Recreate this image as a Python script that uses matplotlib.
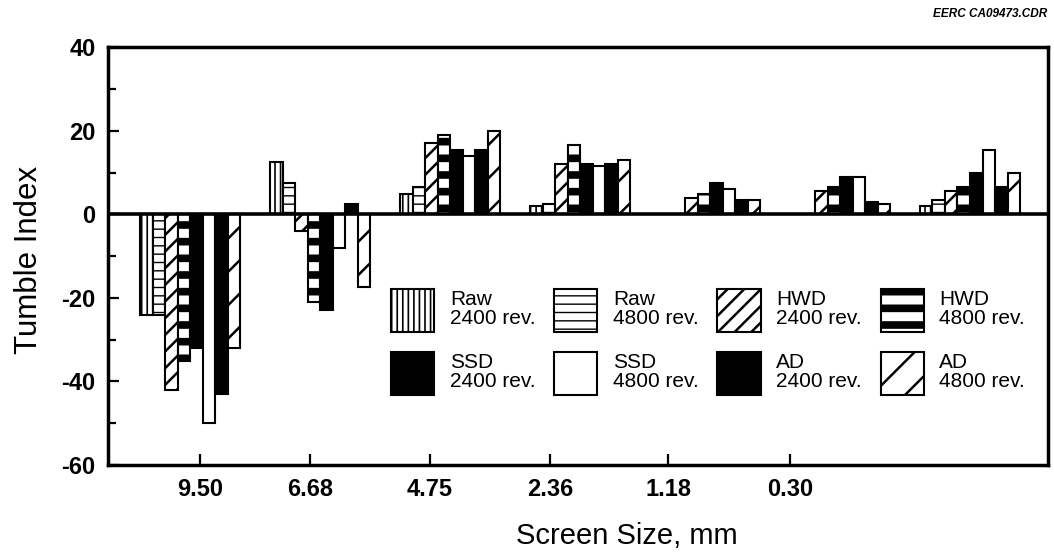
"""Tumble index by screen size - grouped hatched bar chart (EERC style)."""

import numpy as np
import matplotlib
matplotlib.use("Agg")
import matplotlib.pyplot as plt
from matplotlib.patches import Patch

plt.rcParams["font.family"] = ["Liberation Sans", "DejaVu Sans"]
plt.rcParams["axes.unicode_minus"] = False

# ---------------------------------------------------------------------------
# Data (tumble index per screen size group; last group has no label)
# ---------------------------------------------------------------------------
NAN = np.nan
screen_labels = ["9.50", "6.68", "4.75", "2.36", "1.18", "0.30"]
label_pos = [0.077, 0.923, 1.846, 2.769, 3.677, 4.615]

raw_2400 = [-24, 12.5, 5.0, 2.0, NAN, NAN, 2.0]
raw_4800 = [-24, 7.5, 6.5, 2.5, NAN, NAN, 3.5]
hwd_2400 = [-42, -4, 17, 12, 4.0, 5.5, 5.5]
hwd_4800 = [-35, -21, 19, 16.5, 5.0, 6.5, 6.5]
ssd_2400 = [-32, -23, 15.5, 12, 7.5, 9.0, 10]
ssd_4800 = [-50, -8, 14, 11.5, 6.0, 9.0, 15.5]
ad_2400 = [-43, 2.5, 15.5, 12, 3.5, 3.0, 6.5]
ad_4800 = [-32, -17.5, 20, 13, 3.5, 2.5, 10]

series_labels = ["Raw\n2400 rev.", "Raw\n4800 rev.", "HWD\n2400 rev.", "HWD\n4800 rev.",
                 "SSD\n2400 rev.", "SSD\n4800 rev.", "AD\n2400 rev.", "AD\n4800 rev."]
series_values = [raw_2400, raw_4800, hwd_2400, hwd_4800,
                 ssd_2400, ssd_4800, ad_2400, ad_4800]

# ---------------------------------------------------------------------------
# Styles: (facecolor, hatch, hatch linewidth)
# ---------------------------------------------------------------------------
STYLES = [
    ("white", "|||", 1.2),
    ("white", "--", 1.0),
    ("white", "//", 1.8),
    ("white", "-", 5.5),
    ("black", None, 1.0),
    ("white", None, 1.0),
    ("black", None, 1.0),
    ("white", "/", 1.8),
]

BAR_W = 0.0962
EDGE_LW = 1.5


def _style_patch(p, hatch_lw):
    if hasattr(p, "set_hatch_linewidth"):
        p.set_hatch_linewidth(hatch_lw)


fig = plt.figure(figsize=(10.54, 5.54), dpi=100)
ax = fig.add_axes([0.1025, 0.1606, 0.8918, 0.754])

x = np.arange(len(raw_2400))
for j, (vals, (fc, hatch, hlw)) in enumerate(zip(series_values, STYLES)):
    with plt.rc_context({"hatch.linewidth": hlw, "hatch.color": "black"}):
        bars = ax.bar(x + (j - 3.5) * BAR_W, vals, width=BAR_W, color=fc,
                      edgecolor="black", linewidth=EDGE_LW, hatch=hatch, zorder=2)
    for p in bars:
        _style_patch(p, hlw)

ax.axhline(0, color="black", linewidth=2.6, zorder=4)

# --- axes ---
ax.set_xlim(-0.631, 6.6)
ax.set_ylim(-60, 40)
ax.set_yticks(np.arange(-60, 41, 20))
ax.set_yticks(np.arange(-50, 40, 20), minor=True)
ax.set_xticks(label_pos)
ax.set_xticklabels(screen_labels)
ax.tick_params(axis="both", which="major", direction="in", length=8, width=1.6,
               labelsize=17, pad=9)
ax.tick_params(axis="y", which="minor", direction="in", length=6, width=1.6)
for lab in ax.get_xticklabels() + ax.get_yticklabels():
    lab.set_fontweight("bold")
for s in ax.spines.values():
    s.set_linewidth(2.5)

ax.set_ylabel("Tumble Index", fontsize=22.5)
ax.yaxis.set_label_coords(-0.068, 0.49)
ax.set_xlabel("Screen Size, mm", fontsize=21)
ax.xaxis.set_label_coords(0.552, -0.136)

# --- legend (4 columns x 2 rows, filled column-wise) ---
handles = [Patch(facecolor=fc, edgecolor="black", linewidth=EDGE_LW, hatch=hatch)
           for fc, hatch, _ in STYLES]
order = [0, 4, 1, 5, 2, 6, 3, 7]
leg = ax.legend([handles[i] for i in order], [series_labels[i] for i in order],
                ncol=4, loc="lower left", bbox_to_anchor=(0.29, 0.143),
                frameon=False, fontsize=15, handlelength=2.07, handleheight=2.8,
                handletextpad=0.75, columnspacing=0.9, labelspacing=0.95,
                borderpad=0)
for t in leg.get_texts():
    t.set_linespacing(1.0)
    t.set_multialignment("left")
for h, i in zip(leg.legend_handles, order):
    _style_patch(h, STYLES[i][2])

fig.text(0.994, 0.985, "EERC CA09473.CDR", ha="right", va="top",
         fontsize=8.5, fontstyle="italic", fontweight="bold")

fig.savefig("out.png", dpi=100, facecolor="white")
